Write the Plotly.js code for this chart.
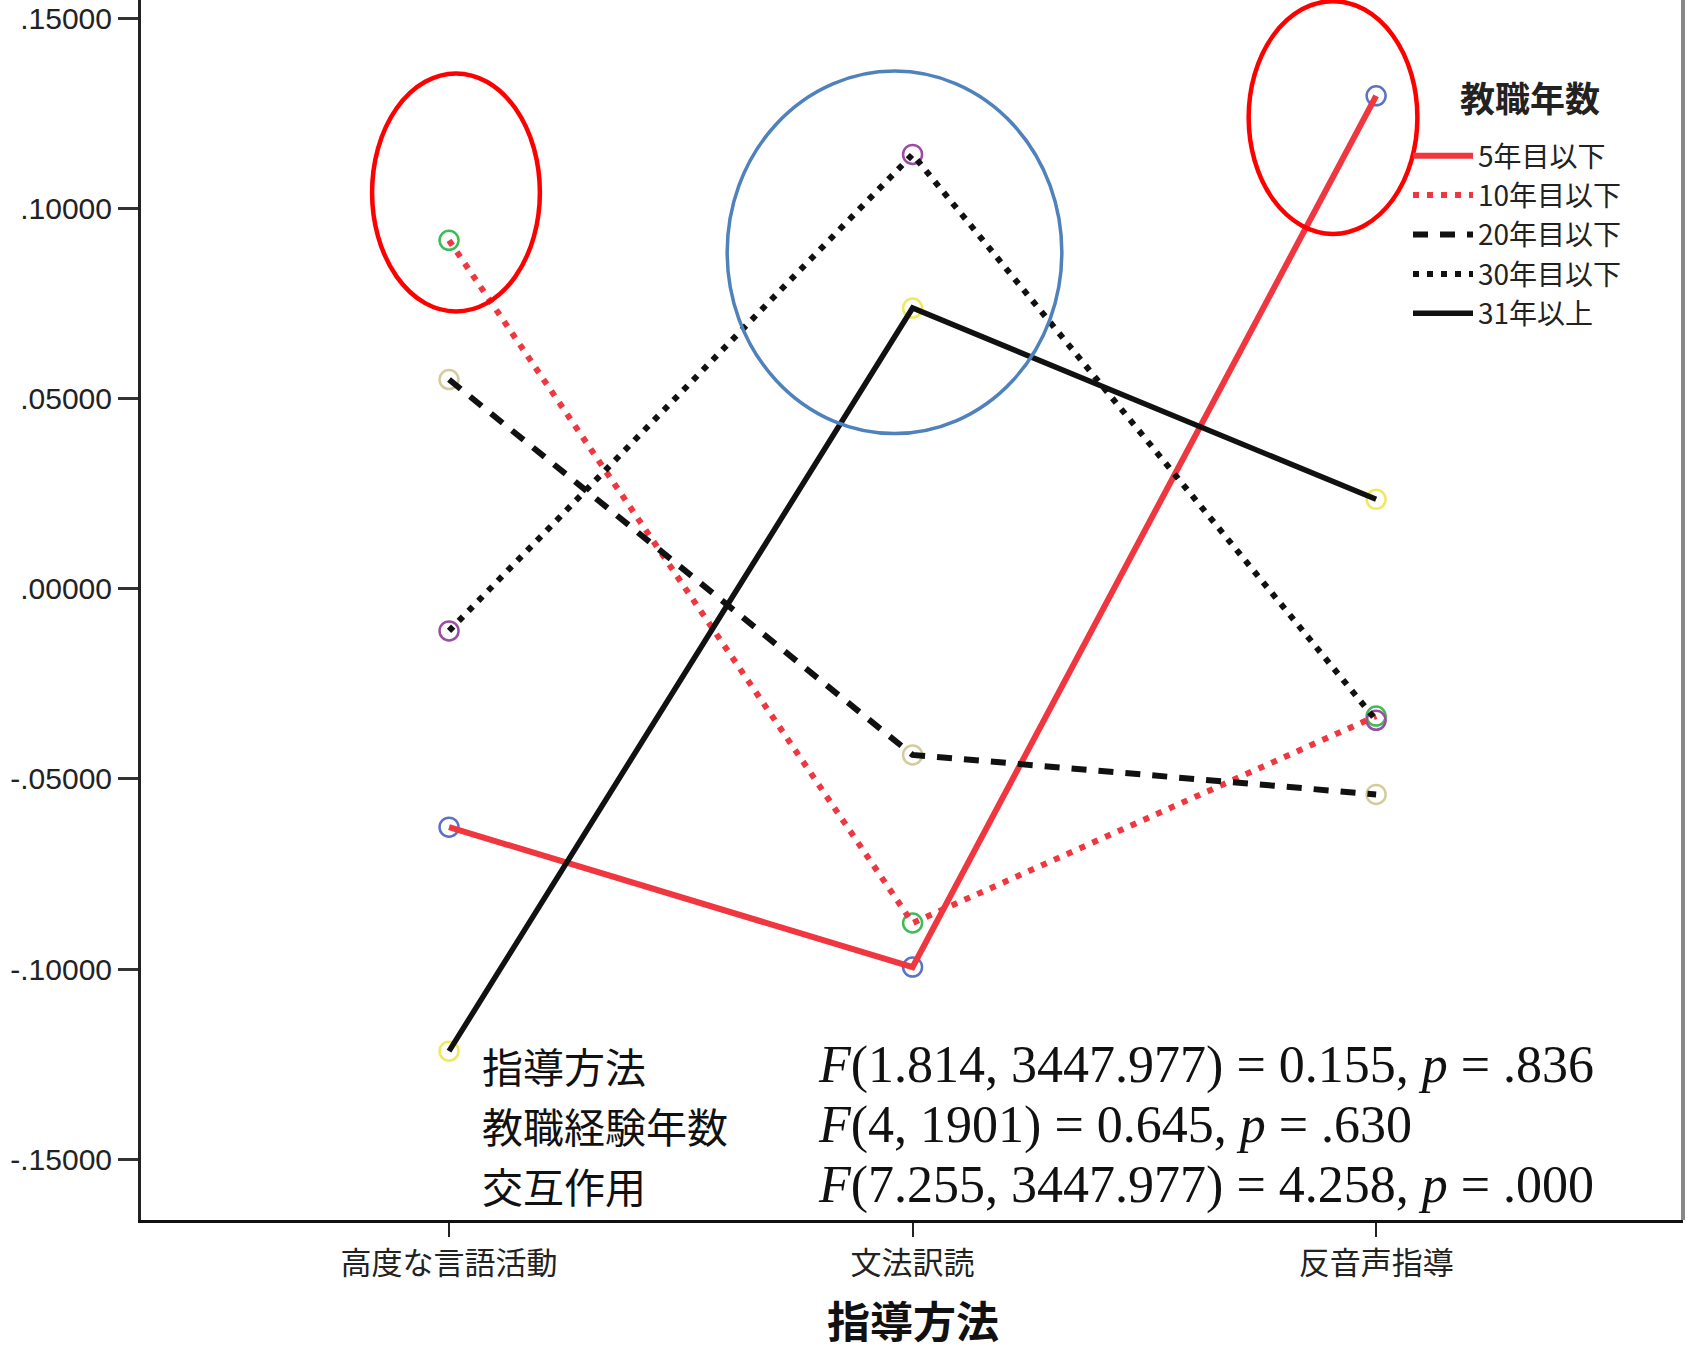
<!DOCTYPE html>
<html>
<head>
<meta charset="utf-8">
<script src="https://cdn.plot.ly/plotly-3.0.1.min.js"></script>
<style>
  html, body { margin: 0; padding: 0; background: #ffffff; }
  #chart { width: 1692px; height: 1351px; }
</style>
</head>
<body>
<div id="chart"></div>
<script>
// 指導方法 × 教職年数 の推定周辺平均
const categories = ['高度な言語活動', '文法訳読', '反音声指導'];
const groups = ['5年目以下', '10年目以下', '20年目以下', '30年目以下', '31年以上'];

const means5 = [-0.0627, -0.0995, 0.1296];
const means10 = [0.0916, -0.0879, -0.0335];
const means20 = [0.0550, -0.0437, -0.0541];
const means30 = [-0.0111, 0.1142, -0.0346];
const means31 = [-0.1216, 0.0738, 0.0235];

const yTickVals = [0.15, 0.10, 0.05, 0.00, -0.05, -0.10, -0.15];
const yTickText = ['.15000', '.10000', '.05000', '.00000', '-.05000', '-.10000', '-.15000'];

const effectLabels = ['指導方法', '教職経験年数', '交互作用'];
const effectStats = [
  '<i>F</i>(1.814, 3447.977) = 0.155, <i>p</i> = .836',
  '<i>F</i>(4, 1901) = 0.645, <i>p</i> = .630',
  '<i>F</i>(7.255, 3447.977) = 4.258, <i>p</i> = .000'
];

const xTitle = '指導方法';
const legendTitle = '教職年数';

// 強調の楕円 (x: カテゴリ番号, y: 値)
const highlightX0 = [-0.166, 0.600, 1.725];
const highlightX1 = [0.196, 1.322, 2.089];
const highlightY0 = [0.0729, 0.0408, 0.0933];
const highlightY1 = [0.1355, 0.1361, 0.1545];
const highlightColors = ['#ff0000', '#4f81bd', '#ff0000'];
const highlightWidths = [4.5, 3.5, 4.5];

// ---- styles ----
const seriesValues = [means5, means10, means20, means30, means31];
const lineColors = ['#f0363f', '#f0363f', '#111111', '#111111', '#111111'];
const lineWidths = [6, 6, 6, 6, 5.5];
const lineDashes = ['solid', '6px,8px', '15px,12px', '6px,8px', 'solid'];
const markerColors = ['#5b72c6', '#3fbb58', '#d4cc9c', '#9a4ea2', '#eeea5c'];

const W = 1692, H = 1351;
const M = { l: 141, r: 9, t: 0, b: 131 };
const plotW = W - M.l - M.r, plotH = H - M.t - M.b;
const px2x = px => (px - M.l) / plotW;
const px2y = py => (H - M.b - py) / plotH;

const traces = [];
// markers underneath the lines
seriesValues.forEach((vals, i) => {
  traces.push({
    type: 'scatter', mode: 'markers',
    x: categories, y: vals,
    showlegend: false, hoverinfo: 'skip',
    marker: { symbol: 'circle-open', size: 19, color: markerColors[i], line: { width: 2.5, color: markerColors[i] } }
  });
});
seriesValues.forEach((vals, i) => {
  traces.push({
    type: 'scatter', mode: 'lines',
    name: groups[i],
    x: categories, y: vals,
    line: { color: lineColors[i], width: lineWidths[i], dash: lineDashes[i] }
  });
});

const shapes = highlightX0.map((x0, i) => ({
  type: 'circle', xref: 'x', yref: 'y',
  x0: x0, x1: highlightX1[i], y0: highlightY0[i], y1: highlightY1[i],
  line: { color: highlightColors[i], width: highlightWidths[i] },
  fillcolor: 'rgba(0,0,0,0)'
}));
// right frame edge
shapes.push({
  type: 'line', xref: 'paper', yref: 'paper',
  x0: 1.0, x1: 1.0, y0: 0, y1: 1,
  line: { color: '#888888', width: 4 }
});

const annotations = [];
const rowY = [1065, 1125, 1185];
effectLabels.forEach((lab, i) => {
  annotations.push({
    xref: 'paper', yref: 'paper', x: px2x(480), y: px2y(rowY[i]),
    xanchor: 'left', yanchor: 'middle', showarrow: false,
    text: lab,
    font: { family: 'Noto Sans CJK JP', size: 41, color: '#111111' }
  });
  annotations.push({
    xref: 'paper', yref: 'paper', x: px2x(816), y: px2y(rowY[i]),
    xanchor: 'left', yanchor: 'middle', showarrow: false,
    text: effectStats[i],
    font: { family: 'Liberation Serif', size: 52, color: '#111111' }
  });
});
// legend heading
annotations.push({
  xref: 'paper', yref: 'paper', x: px2x(1530), y: px2y(96),
  xanchor: 'center', yanchor: 'middle', showarrow: false,
  text: legendTitle,
  font: { family: 'Noto Sans CJK JP', size: 35, color: '#222222', weight: 'bold' }
});
// x axis heading
annotations.push({
  xref: 'paper', yref: 'paper', x: px2x(913), y: px2y(1319),
  xanchor: 'center', yanchor: 'middle', showarrow: false,
  text: xTitle,
  font: { family: 'Noto Sans CJK JP', size: 43, color: '#111111', weight: 'bold' }
});

const layout = {
  width: W, height: H,
  margin: M,
  paper_bgcolor: '#ffffff', plot_bgcolor: '#ffffff',
  font: { family: 'Noto Sans CJK JP', color: '#222222' },
  showlegend: true,
  legend: {
    x: px2x(1408), y: px2y(131), xanchor: 'left', yanchor: 'top',
    bgcolor: 'rgba(0,0,0,0)', borderwidth: 0,
    itemwidth: 60, tracegroupgap: 0,
    font: { family: 'Noto Sans CJK JP', size: 28, color: '#222222' }
  },
  xaxis: {
    type: 'category', range: [-0.6645, 2.662],
    showline: true, linecolor: '#111111', linewidth: 3,
    ticks: 'outside', ticklen: 14, tickwidth: 2, tickcolor: '#222222',
    showgrid: false, zeroline: false, fixedrange: true,
    tickfont: { family: 'Noto Sans CJK JP', size: 31, color: '#222222' },
    automargin: false
  },
  yaxis: {
    range: [-0.1660, 0.1548],
    tickvals: yTickVals, ticktext: yTickText,
    showline: true, linecolor: '#222222', linewidth: 3,
    ticks: 'outside', ticklen: 20, tickwidth: 3, tickcolor: '#333333',
    showgrid: false, zeroline: false, fixedrange: true,
    tickfont: { family: 'Liberation Sans', size: 30, color: '#222222' },
    automargin: false
  },
  shapes: shapes,
  annotations: annotations
};

Plotly.newPlot('chart', traces, layout, { displayModeBar: false, staticPlot: true });
</script>
</body>
</html>
